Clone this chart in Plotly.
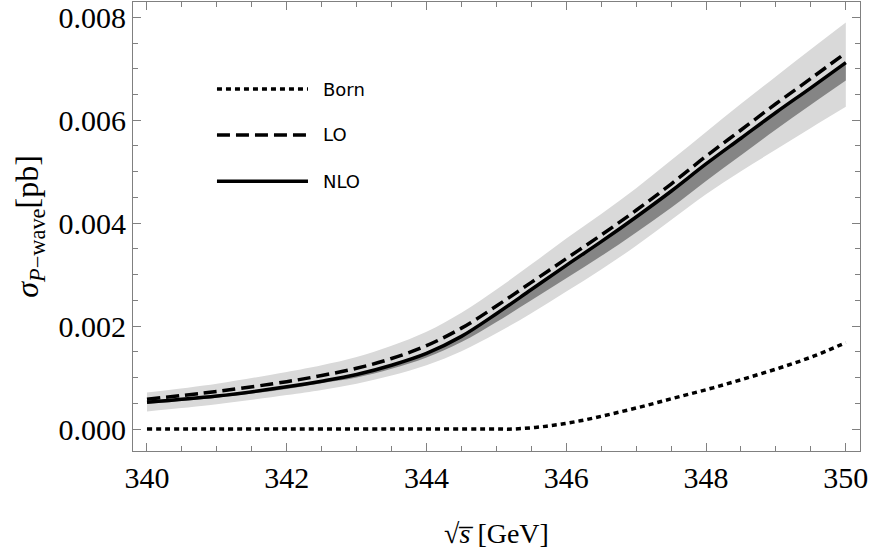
import plotly.graph_objects as go

# sqrt(s) grid [GeV]
sqrt_s = [340, 341, 342, 342.5, 343, 343.5, 344, 344.5, 345, 345.5, 346, 346.5, 347, 347.5, 348, 348.5, 349, 349.5, 350]

# cross sections [pb]
nlo = [0.00052, 0.00064, 0.00082, 0.00093, 0.00106, 0.00124, 0.00147, 0.00180, 0.00224, 0.00271, 0.00318, 0.00364,
       0.00412, 0.00462, 0.00515, 0.00565, 0.00615, 0.00663, 0.00712]
lo = [0.00058, 0.00073, 0.00092, 0.00104, 0.00118, 0.00137, 0.00162, 0.00196, 0.00239, 0.00285, 0.00331, 0.00377,
      0.00425, 0.00476, 0.00530, 0.00581, 0.00632, 0.00681, 0.00731]
light_hi = [0.00071, 0.00088, 0.00111, 0.00124, 0.00140, 0.00162, 0.00189, 0.00226, 0.00271, 0.00320, 0.00370, 0.00418,
            0.00468, 0.00522, 0.00577, 0.00632, 0.00685, 0.00738, 0.00790]
light_lo = [0.00034, 0.00048, 0.00066, 0.00076, 0.00088, 0.00104, 0.00124, 0.00151, 0.00186, 0.00225, 0.00267, 0.00310,
            0.00356, 0.00406, 0.00456, 0.00501, 0.00543, 0.00585, 0.00626]
dark_hi = [0.00054, 0.00066, 0.00084, 0.00095, 0.00108, 0.00126, 0.00149, 0.00182, 0.00226, 0.00273, 0.00320, 0.00366,
           0.00414, 0.00464, 0.00517, 0.00567, 0.00617, 0.00665, 0.00714]
dark_lo = [0.00049, 0.00061, 0.00078, 0.00089, 0.00100, 0.00117, 0.00139, 0.00169, 0.00208, 0.00250, 0.00293, 0.00336,
           0.00382, 0.00430, 0.00482, 0.00532, 0.00582, 0.00630, 0.00677]

born_x = [340, 342, 344, 345, 345.24, 345.72, 346.2, 346.67, 347.15, 347.62, 348.1, 348.58, 349.06, 349.53, 350]
born = [0, 0, 0, 0, 0.0, 0.000055, 0.00016, 0.00030, 0.00046, 0.00063, 0.00080, 0.00099, 0.00119, 0.00141, 0.00168]

legend_names = ["Born", "LO", "NLO"]

LIGHT = "#d9d9d9"
DARK = "#858585"
dot_dash = "5px,4px"
long_dash = "13px,6px"

fig = go.Figure()
fig.add_trace(go.Scatter(x=sqrt_s, y=light_lo, mode="lines", line=dict(width=0, color=LIGHT, shape="spline"),
                         showlegend=False, hoverinfo="skip"))
fig.add_trace(go.Scatter(x=sqrt_s, y=light_hi, mode="lines", line=dict(width=0, color=LIGHT, shape="spline"),
                         fill="tonexty", fillcolor=LIGHT, showlegend=False, hoverinfo="skip"))
fig.add_trace(go.Scatter(x=sqrt_s, y=dark_lo, mode="lines", line=dict(width=0, color=DARK, shape="spline"),
                         showlegend=False, hoverinfo="skip"))
fig.add_trace(go.Scatter(x=sqrt_s, y=dark_hi, mode="lines", line=dict(width=0, color=DARK, shape="spline"),
                         fill="tonexty", fillcolor=DARK, showlegend=False, hoverinfo="skip"))
fig.add_trace(go.Scatter(x=born_x, y=born, mode="lines", name="Born",
                         line=dict(color="black", width=3.5, dash=dot_dash, shape="spline"), showlegend=False))
fig.add_trace(go.Scatter(x=sqrt_s, y=lo, mode="lines", name="LO",
                         line=dict(color="black", width=3.5, dash=long_dash, shape="spline"), showlegend=False))
fig.add_trace(go.Scatter(x=sqrt_s, y=nlo, mode="lines", name="NLO",
                         line=dict(color="black", width=3.5, shape="spline"), showlegend=False))

# manual legend (paper coordinates)
dashes = [dot_dash, long_dash, "solid"]
leg_y = [0.806, 0.7038, 0.601]
for name, d, yy in zip(legend_names, dashes, leg_y):
    fig.add_shape(type="line", xref="paper", yref="paper", x0=0.1155, x1=0.2407, y0=yy, y1=yy,
                  line=dict(color="black", width=3.5, dash=d))
    fig.add_annotation(xref="paper", yref="paper", x=0.258, y=yy, text=name, showarrow=False,
                       xanchor="left", yanchor="middle",
                       font=dict(family="DejaVu Sans", size=18, color="black"))

FRAME = "#808080"
axis_common = dict(showline=True, linecolor=FRAME, linewidth=1, mirror="ticks",
                   ticks="inside", ticklen=8, tickcolor=FRAME, tickwidth=1,
                   showgrid=False, zeroline=False,
                   tickfont=dict(family="Liberation Serif", size=30, color="black"))

fig.update_xaxes(range=[339.80, 350.203], tick0=340, dtick=2,
                 minor=dict(dtick=0.5, tick0=340, ticks="inside", ticklen=5, tickcolor=FRAME, showgrid=False),
                 title=dict(text="√<i>s̅</i> [GeV]", standoff=30,
                            font=dict(family="Liberation Serif", size=28, color="black")),
                 **axis_common)
fig.update_yaxes(range=[-0.000427, 0.008297], tick0=0, dtick=0.002, tickformat=".3f",
                 minor=dict(dtick=0.0005, tick0=0, ticks="inside", ticklen=5, tickcolor=FRAME, showgrid=False),
                 title=dict(text="<i>σ</i><sub><i>P</i>−wave</sub>[pb]", standoff=10,
                            font=dict(family="Liberation Serif", size=32, color="black")),
                 **axis_common)

fig.update_layout(width=870, height=556, margin=dict(l=133, r=10, t=2, b=105),
                  plot_bgcolor="white", paper_bgcolor="white", showlegend=False)

fig.write_html("out.html")
